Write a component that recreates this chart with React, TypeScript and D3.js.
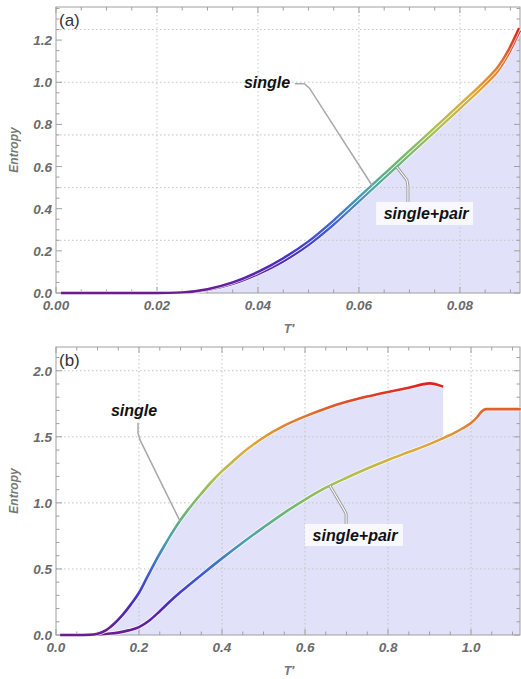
import React from "react";
import * as d3 from "d3";

// panel (a) data
const tSingleA = [0.001, 0.01, 0.02, 0.025, 0.03, 0.035, 0.04, 0.045, 0.05, 0.055, 0.06, 0.065, 0.07, 0.075, 0.08, 0.085, 0.0875, 0.0895, 0.091, 0.0917];
const sSingleA = [0, 0, 0, 0.003, 0.018, 0.05, 0.1, 0.165, 0.245, 0.345, 0.455, 0.565, 0.675, 0.785, 0.895, 1.008, 1.072, 1.148, 1.22, 1.257];
const tPairA = [0.001, 0.01, 0.02, 0.025, 0.03, 0.035, 0.04, 0.045, 0.05, 0.055, 0.06, 0.065, 0.07, 0.075, 0.08, 0.085, 0.0875, 0.0895, 0.091, 0.0919];
const sPairA = [0, 0, 0, 0.002, 0.014, 0.043, 0.09, 0.15, 0.228, 0.325, 0.435, 0.545, 0.655, 0.765, 0.875, 0.988, 1.052, 1.128, 1.2, 1.245];

// panel (b) data
const tSingleB = [0.01, 0.05, 0.08, 0.1, 0.12, 0.14, 0.16, 0.18, 0.2, 0.22, 0.24, 0.26, 0.28, 0.3, 0.325, 0.35, 0.375, 0.4, 0.425, 0.45, 0.475, 0.5, 0.55, 0.6, 0.65, 0.7, 0.75, 0.8, 0.85, 0.9, 0.933];
const sSingleB = [0, 0, 0.002, 0.01, 0.035, 0.085, 0.15, 0.23, 0.32, 0.44, 0.56, 0.67, 0.775, 0.87, 0.975, 1.07, 1.16, 1.24, 1.31, 1.38, 1.44, 1.495, 1.585, 1.655, 1.715, 1.765, 1.805, 1.84, 1.872, 1.905, 1.88];
const tPairB = [0.01, 0.05, 0.1, 0.125, 0.15, 0.175, 0.2, 0.225, 0.25, 0.275, 0.3, 0.35, 0.4, 0.45, 0.5, 0.55, 0.6, 0.65, 0.7, 0.75, 0.8, 0.85, 0.9, 0.933, 0.96, 0.98, 1.0, 1.015, 1.025, 1.036, 1.12];
const sPairB = [0, 0, 0.004, 0.01, 0.018, 0.035, 0.06, 0.11, 0.18, 0.255, 0.325, 0.455, 0.58, 0.7, 0.815, 0.925, 1.025, 1.115, 1.19, 1.26, 1.325, 1.385, 1.445, 1.49, 1.53, 1.565, 1.605, 1.65, 1.69, 1.71, 1.71];

// ticks
const xTicksA = [0, 0.02, 0.04, 0.06, 0.08];
const yTicksA = [0, 0.2, 0.4, 0.6, 0.8, 1.0, 1.2];
const yGridA = [0.25, 0.5, 0.75, 1.0, 1.25];
const xTicksB = [0, 0.2, 0.4, 0.6, 0.8, 1.0];
const yTicksB = [0, 0.5, 1.0, 1.5, 2.0];

const rainbow = ["#6b1d8f", "#4a2bc0", "#3d5fd6", "#4a9fb0", "#6fb870", "#b0c050", "#e0a838", "#e07030", "#dc2020"];

const FONT = "'Liberation Sans', Arial, sans-serif";
const FILL = "#e1e1fa";
const FRAME = "#a0a0a0";

type Lbl = {
  text: string; tx: number; ty: number; boxed: boolean;
  box?: [number, number, number, number];
  leader: [number, number][];
};

type PanelProps = {
  id: string; tag: string;
  top: number; bottom: number;
  xMax: number; yMax: number; colorMax: number;
  xTicks: number[]; xFmt: string; xMinor: number;
  yTicks: number[]; yMinor: number; yGrid: number[];
  series: { t: number[]; s: number[]; width: number }[];
  labels: Lbl[];
};

function Panel(p: PanelProps) {
  const left = 56, right = 520;
  const x = d3.scaleLinear().domain([0, p.xMax]).range([left, right]);
  const y = d3.scaleLinear().domain([0, p.yMax]).range([p.bottom, p.top]);
  const pts = (t: number[], s: number[]) => t.map((v, i) => [v, s[i]] as [number, number]);
  const line = d3.line<[number, number]>().x(d => x(d[0])).y(d => y(d[1])).curve(d3.curveMonotoneX);
  const area = d3.area<[number, number]>().x(d => x(d[0])).y0(y(0)).y1(d => y(d[1])).curve(d3.curveMonotoneX);
  const leader = d3.line<[number, number]>().x(d => x(d[0])).y(d => y(d[1]));
  const xMinorTicks = d3.range(0, p.xMax, p.xMinor);
  const yMinorTicks = d3.range(0, p.yMax, p.yMinor);
  const fmtX = d3.format(p.xFmt);
  const fmtY = d3.format(".1f");
  const gid = "grad" + p.id;

  return (
    <g>
      <defs>
        <linearGradient id={gid} gradientUnits="userSpaceOnUse" x1={0} x2={0} y1={y(0)} y2={y(p.colorMax)}>
          {rainbow.map((c, i) => (
            <stop key={i} offset={i / (rainbow.length - 1)} stopColor={c} />
          ))}
        </linearGradient>
        <clipPath id={"clip" + p.id}>
          <rect x={left} y={p.top} width={right - left} height={p.bottom - p.top} />
        </clipPath>
      </defs>
      <g clipPath={`url(#clip${p.id})`}>
        {p.series.map((sr, i) => (
          <path key={i} d={area(pts(sr.t, sr.s)) || ""} fill={FILL} />
        ))}
      </g>
      {/* grid */}
      {p.xTicks.filter(v => v > 0).map(v => (
        <line key={"gx" + v} x1={x(v)} x2={x(v)} y1={p.top} y2={p.bottom} stroke="#c4c4c4" strokeDasharray="1.5,2.5" />
      ))}
      {p.yGrid.map(v => (
        <line key={"gy" + v} x1={left} x2={right} y1={y(v)} y2={y(v)} stroke="#c4c4c4" strokeDasharray="1.5,2.5" />
      ))}
      {/* frame */}
      <rect x={left} y={p.top} width={right - left} height={p.bottom - p.top} fill="none" stroke={FRAME} strokeWidth={1} />
      {xMinorTicks.map((v, i) => {
        const major = p.xTicks.some(m => Math.abs(m - v) < 1e-9);
        const len = major ? 6 : 3.5;
        return (
          <g key={"xt" + i} stroke={FRAME}>
            <line x1={x(v)} x2={x(v)} y1={p.bottom} y2={p.bottom - len} />
            <line x1={x(v)} x2={x(v)} y1={p.top} y2={p.top + len} />
          </g>
        );
      })}
      {yMinorTicks.map((v, i) => {
        const major = p.yTicks.some(m => Math.abs(m - v) < 1e-9);
        const len = major ? 6 : 3.5;
        return (
          <g key={"yt" + i} stroke={FRAME}>
            <line x1={left} x2={left + len} y1={y(v)} y2={y(v)} />
            <line x1={right} x2={right - len} y1={y(v)} y2={y(v)} />
          </g>
        );
      })}
      {p.xTicks.map(v => (
        <text key={"xl" + v} x={x(v)} y={p.bottom + 17} textAnchor="middle" fontFamily={FONT} fontSize={13.5}
          fontWeight="bold" fontStyle="italic" fill="#6a6a6a">{fmtX(v)}</text>
      ))}
      {p.yTicks.map(v => (
        <text key={"yl" + v} x={52} y={y(v) + 5} textAnchor="end" fontFamily={FONT} fontSize={13.5}
          fontWeight="bold" fontStyle="italic" fill="#6a6a6a">{fmtY(v)}</text>
      ))}
      {/* curves */}
      {p.series.map((sr, i) => (
        <g key={"c" + i}>
          <path d={line(pts(sr.t, sr.s)) || ""} fill="none" stroke="white" strokeWidth={sr.width + 1.6} strokeOpacity={0.8} />
          <path d={line(pts(sr.t, sr.s)) || ""} fill="none" stroke={`url(#${gid})`} strokeWidth={sr.width} strokeLinejoin="round" />
        </g>
      ))}
      {/* labels */}
      {p.labels.map((l, i) => (
        <g key={"lb" + i}>
          {l.boxed ? (
            <>
              <path d={leader(l.leader) || ""} fill="none" stroke="#9a9a9a" strokeWidth={3} />
              <path d={leader(l.leader) || ""} fill="none" stroke="white" strokeWidth={1.1} />
              <rect x={x(l.box![0])} y={y(l.box![1])} width={x(l.box![2]) - x(l.box![0])} height={y(l.box![3]) - y(l.box![1])}
                fill="white" fillOpacity={0.75} />
            </>
          ) : (
            <path d={leader(l.leader) || ""} fill="none" stroke="#a8a8a8" strokeWidth={1.5} />
          )}
          <text x={x(l.tx)} y={y(l.ty)} textAnchor="middle" fontFamily={FONT} fontSize={16} fontWeight="bold"
            fontStyle="italic" fill="#111">{l.text}</text>
        </g>
      ))}
      <text x={59} y={p.top + 19} fontFamily={FONT} fontSize={17} fill="#333">{p.tag}</text>
      <text x={289} y={p.bottom + 40} textAnchor="middle" fontFamily={FONT} fontSize={12.5} fontWeight="bold"
        fontStyle="italic" fill="#777">T′</text>
      <text transform={`translate(18, ${(p.top + p.bottom) / 2}) rotate(-90)`} textAnchor="middle" fontFamily={FONT}
        fontSize={12} fontWeight="bold" fontStyle="italic" fill="#777">Entropy</text>
    </g>
  );
}

export default function App() {
  const labelsA: Lbl[] = [
    { text: "single", tx: 0.0418, ty: 0.975, boxed: false,
      leader: [[0.0473, 0.993], [0.0492, 0.993], [0.0502, 0.972], [0.0626, 0.51]] },
    { text: "single+pair", tx: 0.0733, ty: 0.351, boxed: true, box: [0.0634, 0.432, 0.0826, 0.323],
      leader: [[0.0675, 0.598], [0.0695, 0.536], [0.0697, 0.508], [0.0697, 0.432]] },
  ];
  const labelsB: Lbl[] = [
    { text: "single", tx: 0.188, ty: 1.66, boxed: false,
      leader: [[0.1976, 1.606], [0.1976, 1.53], [0.2024, 1.477], [0.2988, 0.862]] },
    { text: "single+pair", tx: 0.7205, ty: 0.712, boxed: true, box: [0.6, 0.841, 0.836, 0.674],
      leader: [[0.66, 1.13], [0.6916, 0.962], [0.699, 0.917], [0.699, 0.841]] },
  ];
  return (
    <svg width={521} height={679} style={{ position: "absolute", left: 0, top: 0, background: "white" }}>
      <Panel id="a" tag="(a)" top={7} bottom={293} xMax={0.0919} yMax={1.357} colorMax={1.257}
        xTicks={xTicksA} xFmt=".2f" xMinor={0.005} yTicks={yTicksA} yMinor={0.05} yGrid={yGridA}
        series={[{ t: tPairA, s: sPairA, width: 2.4 }, { t: tSingleA, s: sSingleA, width: 2.4 }]}
        labels={labelsA} />
      <Panel id="b" tag="(b)" top={347} bottom={635} xMax={1.118} yMax={2.18} colorMax={1.905}
        xTicks={xTicksB} xFmt=".1f" xMinor={0.05} yTicks={yTicksB} yMinor={0.1} yGrid={yTicksB.slice(1)}
        series={[{ t: tPairB, s: sPairB, width: 2.6 }, { t: tSingleB, s: sSingleB, width: 2.6 }]}
        labels={labelsB} />
    </svg>
  );
}
